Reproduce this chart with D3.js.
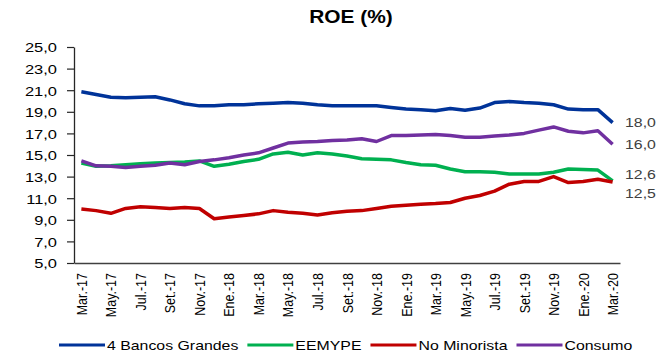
<!DOCTYPE html>
<html>
<head>
<meta charset="utf-8">
<script src="https://cdn.jsdelivr.net/npm/d3@7"></script>
<style>
  body { margin: 0; background: #fff; }
  text { font-family: "Liberation Sans", Arial, sans-serif; }
</style>
</head>
<body>
<svg id="chart" width="668" height="355"></svg>
<script>
// monthly categories, Mar-17 .. Mar-20
var months = ["Mar.-17","Abr.-17","May.-17","Jun.-17","Jul.-17","Ago.-17","Set.-17","Oct.-17","Nov.-17","Dic.-17",
              "Ene.-18","Feb.-18","Mar.-18","Abr.-18","May.-18","Jun.-18","Jul.-18","Ago.-18","Set.-18","Oct.-18","Nov.-18","Dic.-18",
              "Ene.-19","Feb.-19","Mar.-19","Abr.-19","May.-19","Jun.-19","Jul.-19","Ago.-19","Set.-19","Oct.-19","Nov.-19","Dic.-19",
              "Ene.-20","Feb.-20","Mar.-20"];

var bancosGrandes = [20.85,20.6,20.35,20.3,20.35,20.4,20.1,19.75,19.55,19.55,19.65,19.65,19.75,19.8,19.85,19.8,19.65,19.55,19.55,
                     19.55,19.55,19.4,19.25,19.2,19.1,19.3,19.15,19.35,19.85,19.95,19.85,19.8,19.65,19.25,19.2,19.2,18.0];
var eemype = [14.25,13.95,14.0,14.1,14.2,14.25,14.3,14.35,14.45,13.95,14.15,14.4,14.6,15.1,15.25,15.0,15.2,15.1,14.9,
              14.65,14.6,14.55,14.3,14.1,14.05,13.7,13.45,13.45,13.4,13.25,13.25,13.25,13.4,13.7,13.65,13.6,12.6];
var noMinorista = [10.0,9.85,9.6,10.05,10.2,10.15,10.05,10.15,10.05,9.1,9.25,9.4,9.55,9.85,9.7,9.6,9.45,9.65,9.8,
                   9.85,10.05,10.25,10.35,10.45,10.5,10.6,11.0,11.25,11.65,12.3,12.55,12.55,13.0,12.45,12.55,12.75,12.5];
var consumo = [14.45,14.0,13.95,13.85,13.95,14.05,14.25,14.1,14.4,14.55,14.75,15.0,15.2,15.65,16.1,16.2,16.25,16.35,16.4,
               16.5,16.25,16.8,16.8,16.85,16.9,16.8,16.65,16.65,16.75,16.85,17.0,17.3,17.6,17.2,17.05,17.25,16.0];

var yTicks = [5,7,9,11,13,15,17,19,21,23,25];
var seriesNames = ["4 Bancos Grandes","EEMYPE","No Minorista","Consumo"];
var seriesColors = ["#003399","#00b050","#c00000","#7030a0"];
var endLabels = ["18,0","12,6","12,5","16,0"];

var series = [bancosGrandes, eemype, noMinorista, consumo];

var svg = d3.select("#chart");
var sx = 1.22; // the picture is stretched sideways, so is its text
var plotL = 74, plotR = 620, plotT = 47, plotB = 263;

var x = d3.scaleBand().domain(months).range([plotL, plotR]).padding(0);
var y = d3.scaleLinear().domain([5, 25]).range([plotB, plotT]);
var fmt = function(v) { return d3.format(".1f")(v).replace(".", ","); };

// title
svg.append("text")
   .attr("transform", "translate(351,23) scale(1.1,1)")
   .attr("text-anchor", "middle")
   .attr("font-size", "19px")
   .attr("font-weight", "bold")
   .text("ROE (%)");

// y axis
var gy = svg.append("g")
   .attr("transform", "translate(" + plotL + ",0)")
   .call(d3.axisLeft(y).tickValues(yTicks).tickSize(7).tickSizeOuter(0).tickFormat(fmt));
gy.select(".domain").attr("stroke", "#262626").attr("stroke-width", 1.3);
gy.selectAll(".tick line").attr("stroke", "#262626").attr("stroke-width", 1.2);
gy.selectAll(".tick text")
  .attr("font-size", "13.5px")
  .attr("fill", "#000")
  .attr("x", -17 / sx)
  .attr("dy", "0.36em")
  .attr("transform", "scale(" + sx + ",1)");

// x axis, every other month labelled
var gx = svg.append("g")
   .attr("transform", "translate(0," + plotB + ")")
   .call(d3.axisBottom(x).tickValues(months.filter(function(d, i) { return i % 2 === 0; }))
           .tickSize(0).tickSizeOuter(0));
gx.select(".domain").attr("stroke", "#404040").attr("stroke-width", 1.3);
gx.selectAll(".tick text")
  .attr("font-size", "12.5px")
  .attr("fill", "#000")
  .attr("text-anchor", "end")
  .attr("x", -10)
  .attr("y", 0)
  .attr("dy", "0.36em")
  .attr("transform", "scale(" + sx + ",1) rotate(-90)");

// lines
var line = d3.line()
   .x(function(d, i) { return x(months[i]) + x.bandwidth() / 2; })
   .y(function(d) { return y(d); });

series.forEach(function(s, i) {
    svg.append("path")
       .datum(s)
       .attr("fill", "none")
       .attr("stroke", seriesColors[i])
       .attr("stroke-width", 3.5)
       .attr("stroke-linejoin", "round")
       .attr("d", line);
});

// last value labels (the two close ones pushed apart)
var labelShift = [0, -7, 11, 0];
series.forEach(function(s, i) {
    var yy = y(s[s.length - 1]) + labelShift[i];
    svg.append("text")
       .attr("transform", "translate(625," + yy + ") scale(" + sx + ",1)")
       .attr("dy", "0.36em")
       .attr("font-size", "13px")
       .attr("fill", "#404040")
       .text(endLabels[i]);
});

// legend
var lx = 59, ly = 345;
seriesNames.forEach(function(name, i) {
    svg.append("line")
       .attr("x1", lx).attr("x2", lx + 46)
       .attr("y1", ly).attr("y2", ly)
       .attr("stroke", seriesColors[i])
       .attr("stroke-width", 3);
    var t = svg.append("text")
       .attr("transform", "translate(" + (lx + 48) + "," + ly + ") scale(" + sx + ",1)")
       .attr("dy", "0.36em")
       .attr("font-size", "13px")
       .attr("fill", "#000")
       .text(name);
    lx += 48 + t.node().getComputedTextLength() * sx + 9;
});
</script>
</body>
</html>
